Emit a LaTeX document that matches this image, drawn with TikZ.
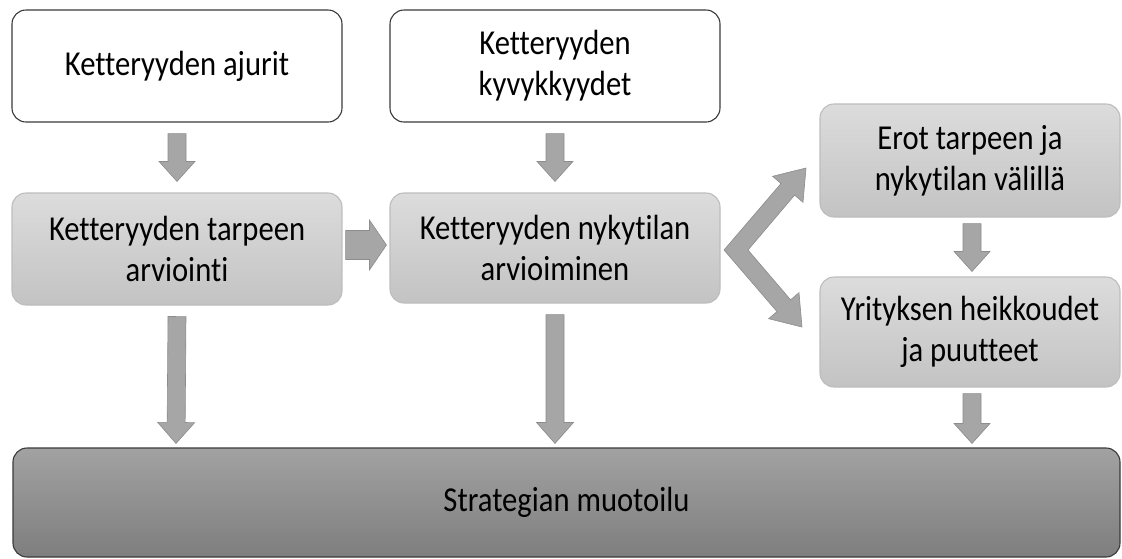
\documentclass[tikz,border=0pt]{standalone}
\usepackage{fontspec}
\setmainfont{Carlito}[FakeStretch=0.875, Ligatures=NoCommon]
\usetikzlibrary{calc}

\definecolor{lighttop}{HTML}{DCDCDC}
\definecolor{lightbot}{HTML}{C3C3C3}
\definecolor{lightedge}{HTML}{BDBDBD}
\definecolor{darktop}{HTML}{A2A2A2}
\definecolor{darkbot}{HTML}{7E7E7E}
\definecolor{darkedge}{HTML}{3A3A3A}
\definecolor{arrowgrey}{HTML}{A6A6A6}
\definecolor{arrowedge}{HTML}{8C8C8C}

% block arrow from #2 to #3: shaft half width #4, head half width #5, head length #6
\newcommand{\blockarrow}[6][]{%
  \path #2 coordinate (ba-s) #3 coordinate (ba-e);
  \path ($(ba-e)!#6!(ba-s)$) coordinate (ba-h);
  \draw[fatarrow,#1] ($(ba-s)!#4!90:(ba-e)$) -- ($(ba-h)!#4!-90:(ba-s)$)
    -- ($(ba-h)!#5!-90:(ba-s)$) -- (ba-e) -- ($(ba-h)!#5!90:(ba-s)$)
    -- ($(ba-h)!#4!90:(ba-s)$) -- ($(ba-s)!#4!-90:(ba-e)$) -- cycle;
}

\begin{document}
\begin{tikzpicture}[x=1pt,y=-1pt,
  box/.style={rectangle, rounded corners=14pt, align=center, inner sep=0pt,
    font=\fontsize{35}{41}\selectfont, line width=1.1pt,
    minimum width=330pt, minimum height=112pt},
  whitebox/.style={box, draw=darkedge, fill=white},
  greybox/.style={box, draw=lightedge, top color=lighttop, bottom color=lightbot},
  darkbox/.style={box, draw=darkedge, top color=darktop, bottom color=darkbot},
  fatarrow/.style={fill=arrowgrey, draw=arrowedge, line width=0.6pt, line join=miter}]
\useasboundingbox (0,0) rectangle (1122,558);

% boxes
\node[whitebox] (drivers) at (177,66) {Ketteryyden ajurit};
\node[whitebox] (caps) at (555,66) {Ketteryyden\\kyvykkyydet};
\node[greybox] (need) at (177,249) {Ketteryyden tarpeen\\arviointi};
\node[greybox, minimum height=110pt] (state) at (555,248) {Ketteryyden nykytilan\\arvioiminen};
\node[greybox, minimum width=300pt, minimum height=113pt] (gaps) at (970,160.5) {Erot tarpeen ja\\nykytilan välillä};
\node[greybox, minimum width=300pt, minimum height=110pt] (weak) at (970,332) {Yrityksen heikkoudet\\ja puutteet};
\node[darkbox, minimum width=1107pt, minimum height=109pt] (strategy) at (566.5,502.5) {Strategian muotoilu};

% arrows between boxes
\blockarrow{($(drivers.south)+(0,11)$)}{($(need.north)+(0,-11)$)}{9pt}{18pt}{20pt}
\blockarrow{($(caps.south)+(0,11)$)}{($(state.north)+(0,-11)$)}{9pt}{18pt}{20pt}
\blockarrow{($(need.east)+(3,-4)$)}{($(state.west)+(-3,-3)$)}{14.5pt}{25pt}{17pt}
\blockarrow{($(need.south)+(0,11)$)}{($(strategy.north)+(-390.5,-4)$)}{9pt}{18.5pt}{21pt}
\blockarrow{($(state.south)+(0,11)$)}{($(strategy.north)+(-11.5,-4)$)}{9pt}{18.5pt}{21pt}
\blockarrow{($(gaps.south)+(2,6)$)}{($(weak.north)+(2,-5)$)}{9pt}{18pt}{20pt}
\blockarrow{($(weak.south)+(2,6)$)}{($(strategy.north)+(405.5,-4)$)}{9pt}{18pt}{20pt}

% forked arrow from the current state to gaps and weaknesses
\draw[fatarrow] (724,250) -- (781,183.5) -- (772.6,176.3) -- (806,168)
  -- (803,202.3) -- (794.6,195.1) -- (748,250) -- (790.6,299.8)
  -- (799,292.7) -- (802,327) -- (768.6,318.7) -- (777,311.6) -- cycle;
\end{tikzpicture}
\end{document}
